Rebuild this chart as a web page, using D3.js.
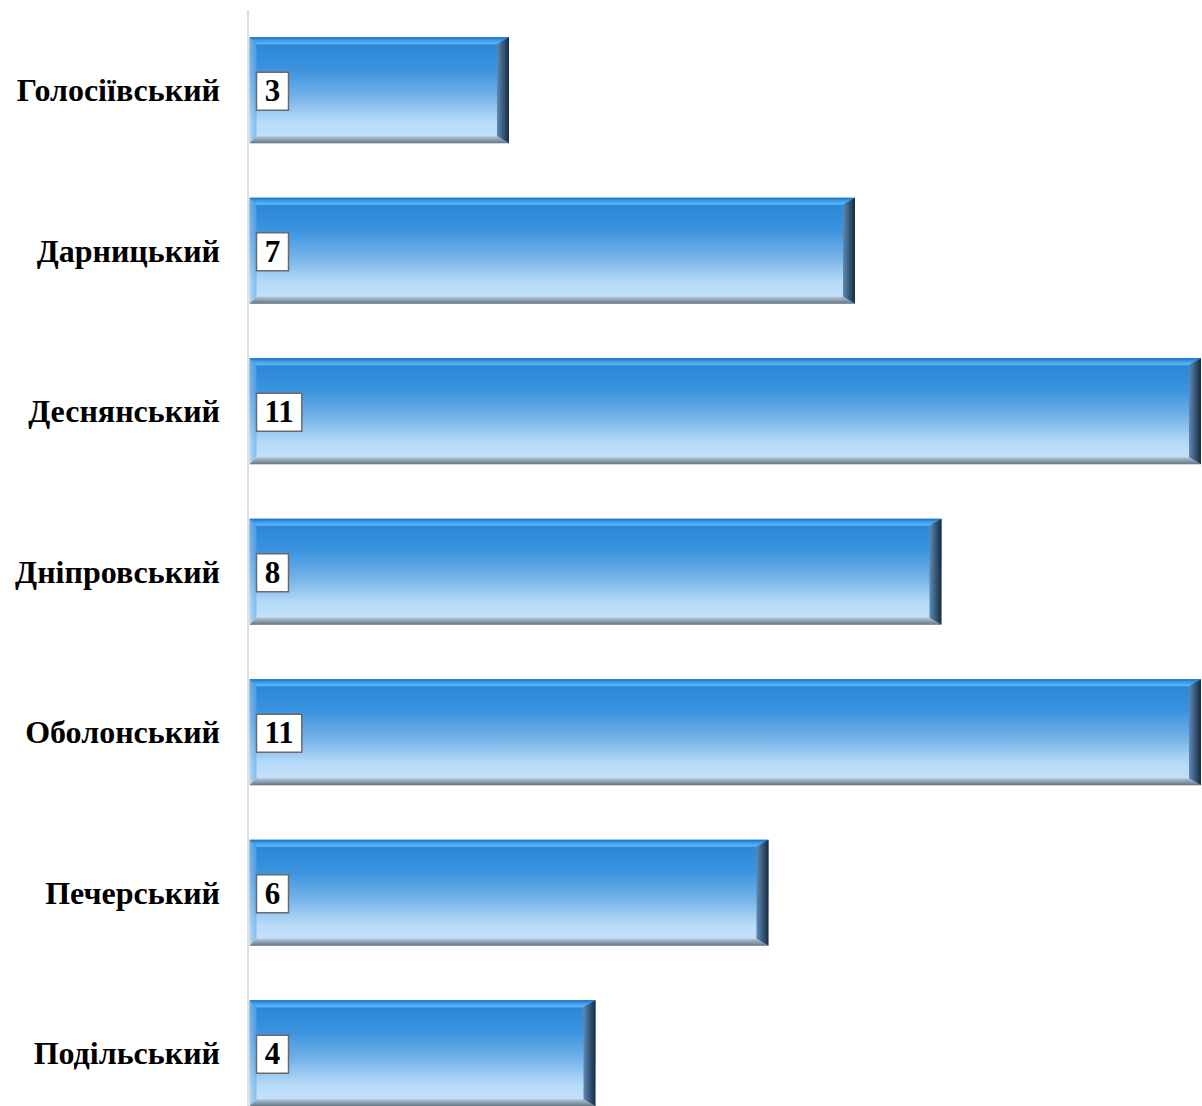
<!DOCTYPE html>
<html>
<head>
<meta charset="utf-8">
<script src="https://cdn.jsdelivr.net/npm/d3@7"></script>
<style>
  body { margin: 0; background: #fff; }
  svg { display: block; }
</style>
</head>
<body>
<div id="chart"></div>
<script>
const districts = ["Голосіївський", "Дарницький", "Деснянський", "Дніпровський", "Оболонський", "Печерський", "Подільський"];
const counts = [3, 7, 11, 8, 11, 6, 4];

const width = 1202, height = 1106;
const margin = { top: 10, right: 1, bottom: 0, left: 249 };
const bevT = 7, bevR = 12, bevB = 7, bevL = 7;

const svg = d3.select("#chart").append("svg")
  .attr("width", width)
  .attr("height", height);

const defs = svg.append("defs");

function grad(id, stops, x2, y2) {
  const g = defs.append("linearGradient").attr("id", id)
    .attr("x1", 0).attr("y1", 0).attr("x2", x2).attr("y2", y2);
  stops.forEach(s => g.append("stop").attr("offset", s[0]).attr("stop-color", s[1]));
}
grad("face", [[0, "#2784d6"], [0.3, "#3b93de"], [0.55, "#72b1e8"], [0.8, "#b8dbf8"], [1, "#c6e2fb"]], 0, 1);
grad("topBev", [[0, "#1470c6"], [0.4, "#3a9ae8"], [1, "#62bbf8"]], 0, 1);
grad("rightBev", [[0, "#5d8ab5"], [1, "#172a40"]], 1, 0);
grad("bottomBev", [[0, "#b4c8d8"], [1, "#667482"]], 0, 1);
grad("leftBev", [[0, "#a8d0f0"], [1, "#5aa6e6"]], 1, 0);

const x = d3.scaleLinear()
  .domain([0, 11])
  .range([margin.left + 0.5, width - margin.right]);

const y = d3.scaleBand()
  .domain(districts)
  .range([margin.top, 1133.5])
  .paddingInner(0.34)
  .paddingOuter(0.17);

// vertical axis line
svg.append("line")
  .attr("x1", margin.left - 1).attr("x2", margin.left - 1)
  .attr("y1", margin.top).attr("y2", height)
  .attr("stroke", "#d4d4d4")
  .attr("stroke-width", 1.5);

const data = districts.map((d, i) => ({ name: d, value: counts[i] }));

const bars = svg.selectAll("g.bar")
  .data(data)
  .enter()
  .append("g")
  .attr("class", "bar");

bars.each(function (d) {
  const g = d3.select(this);
  const x0 = x(0), x1 = x(d.value);
  const y0 = y(d.name), y1 = y0 + y.bandwidth();
  const pts = a => a.map(p => p.join(",")).join(" ");

  g.append("rect")
    .attr("x", x0).attr("y", y0)
    .attr("width", x1 - x0).attr("height", y1 - y0)
    .attr("fill", "url(#face)");

  // left bevel
  g.append("polygon")
    .attr("points", pts([[x0, y0], [x0 + bevL, y0 + bevT], [x0 + bevL, y1 - bevB], [x0, y1]]))
    .attr("fill", "url(#leftBev)").attr("opacity", 0.6);
  // top bevel
  g.append("polygon")
    .attr("points", pts([[x0, y0], [x1, y0], [x1 - bevR, y0 + bevT], [x0 + bevL, y0 + bevT]]))
    .attr("fill", "url(#topBev)");
  // bottom bevel
  g.append("polygon")
    .attr("points", pts([[x0 + bevL, y1 - bevB], [x1 - bevR, y1 - bevB], [x1, y1], [x0, y1]]))
    .attr("fill", "url(#bottomBev)");
  // right bevel
  g.append("polygon")
    .attr("points", pts([[x1 - bevR, y0 + bevT], [x1, y0], [x1, y1], [x1 - bevR, y1 - bevB]]))
    .attr("fill", "url(#rightBev)");

  // value label box
  const cy = (y0 + y1) / 2;
  const label = g.append("text")
    .attr("y", cy + 11)
    .attr("text-anchor", "middle")
    .style("font-family", "'Liberation Serif', 'Times New Roman', serif")
    .style("font-weight", "bold")
    .style("font-size", "31px")
    .attr("fill", "#000")
    .text(d.value);
  const tw = label.node().getComputedTextLength();
  const bw = Math.max(32, tw + 16);
  g.insert("rect", "text")
    .attr("x", x0 + 7).attr("y", cy - 18)
    .attr("width", bw).attr("height", 38)
    .attr("fill", "#fff")
    .attr("stroke", "#6a6a6a")
    .attr("stroke-width", 1.5);
  label.attr("x", x0 + 7 + bw / 2);
});

// category labels
svg.selectAll("text.cat")
  .data(data)
  .enter()
  .append("text")
  .attr("class", "cat")
  .attr("x", 220)
  .attr("y", d => y(d.name) + y.bandwidth() / 2 + 11)
  .attr("text-anchor", "end")
  .style("font-family", "'Liberation Serif', 'Times New Roman', serif")
  .style("font-weight", "bold")
  .style("font-size", "32px")
  .attr("fill", "#000")
  .text(d => d.name);
</script>
</body>
</html>
